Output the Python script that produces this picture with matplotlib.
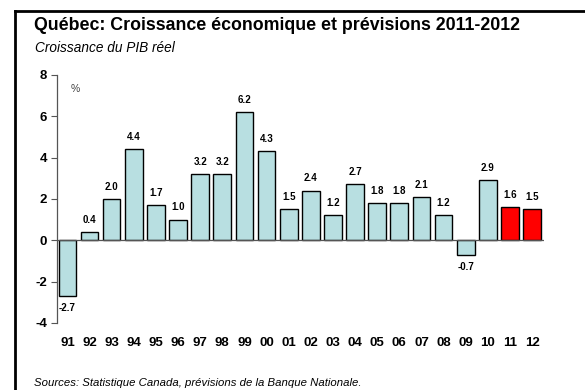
import numpy as np
import matplotlib.pyplot as plt
from matplotlib.lines import Line2D

plt.rcParams['font.family'] = ['Liberation Sans', 'DejaVu Sans']

# Real GDP growth, Quebec (%), with 2011-2012 forecasts
years = ['91', '92', '93', '94', '95', '96', '97', '98', '99', '00', '01',
         '02', '03', '04', '05', '06', '07', '08', '09', '10', '11', '12']
growth = [-2.7, 0.4, 2.0, 4.4, 1.7, 1.0, 3.2, 3.2, 6.2, 4.3, 1.5,
          2.4, 1.2, 2.7, 1.8, 1.8, 2.1, 1.2, -0.7, 2.9, 1.6, 1.5]
forecast = ['11', '12']

fig = plt.figure(figsize=(5.85, 3.9), dpi=100)
ax = fig.add_axes([0.0974, 0.172, 0.833, 0.636])

x = np.arange(len(years))
colors = ['#ff0000' if y in forecast else '#b8dfe1' for y in years]
ax.bar(x, growth, width=0.8, color=colors, edgecolor='black', linewidth=1.0, zorder=2)

for xi, v in zip(x, growth):
    if v >= 0:
        ax.text(xi, v + 0.35, f'{v:.1f}', ha='center', va='bottom',
                fontsize=7, fontweight='bold')
    else:
        ax.text(xi, v - 0.35, f'{v:.1f}', ha='center', va='top',
                fontsize=7, fontweight='bold')

ax.set_xlim(-0.47, 21.55)
ax.set_ylim(-4, 8)
ax.set_yticks([-4, -2, 0, 2, 4, 6, 8])
ax.set_yticklabels(['-4', '-2', '0', '2', '4', '6', '8'], fontsize=9.5, fontweight='bold')
ax.tick_params(axis='y', direction='out', length=4, width=0.8, color='#555555', pad=3)

ax.set_xticks([])
for xi, lab in zip(x, years):
    ax.text(xi, -4.95, lab, ha='center', va='center', fontsize=9.5, fontweight='bold')

for s in ['top', 'right', 'bottom']:
    ax.spines[s].set_visible(False)
ax.spines['left'].set_color('#555555')
ax.spines['left'].set_linewidth(0.9)
ax.axhline(0, color='#555555', linewidth=0.9, zorder=3)

ax.text(0.15, 7.3, '%', ha='left', va='center', fontsize=7.5, color='#444444')

# Titles and source note
fig.text(0.058, 0.922, 'Québec: Croissance économique et prévisions 2011-2012',
         fontsize=12.8, fontweight='bold', va='baseline', ha='left')
fig.text(0.06, 0.866, 'Croissance du PIB réel', fontsize=9.8, style='italic',
         va='baseline', ha='left')
fig.text(0.058, 0.011, 'Sources: Statistique Canada, prévisions de la Banque Nationale.',
         fontsize=8.2, style='italic', va='baseline', ha='left')

# Frame lines along the top and left edge
fig.add_artist(Line2D([0.025, 1.0], [0.972, 0.972], color='black', linewidth=2,
                      transform=fig.transFigure))
fig.add_artist(Line2D([0.025, 0.025], [0.0, 0.972], color='black', linewidth=2,
                      transform=fig.transFigure))

fig.savefig('out.png', dpi=100)
